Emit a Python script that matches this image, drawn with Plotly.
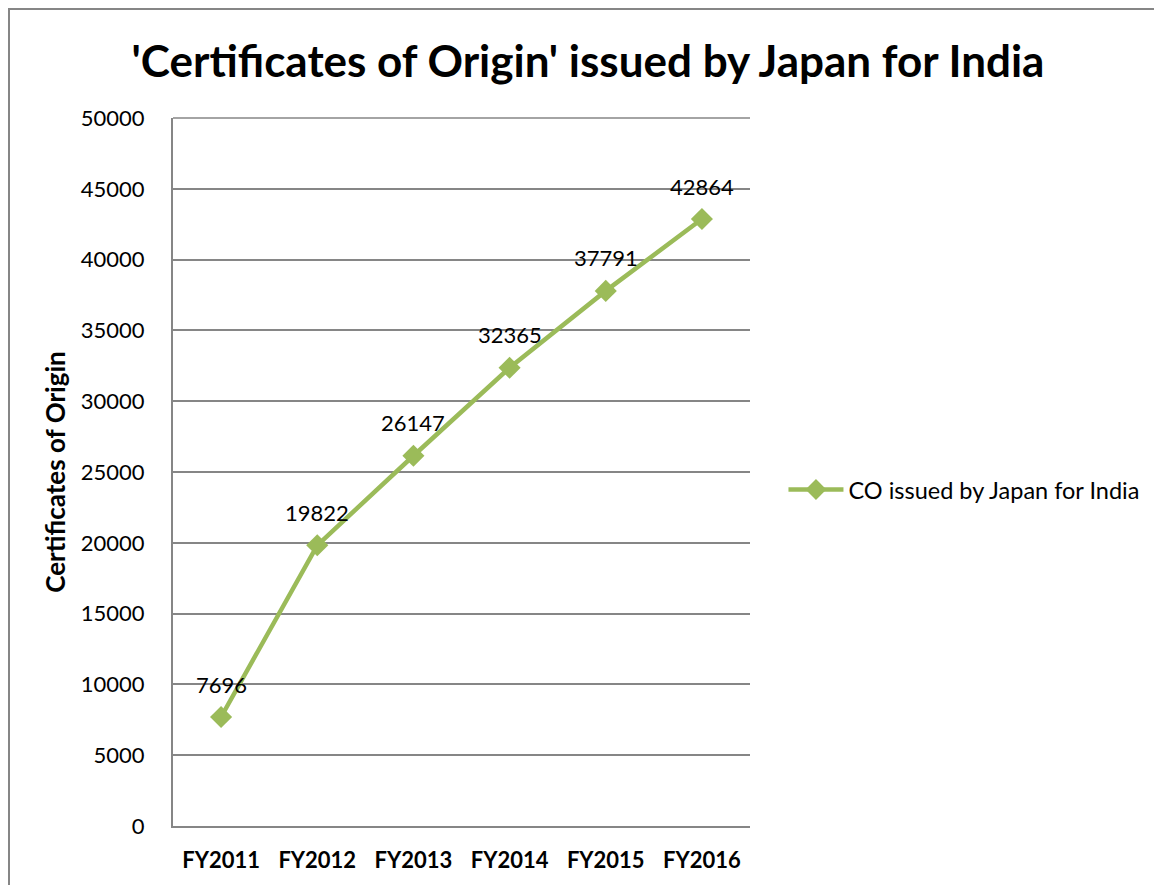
import plotly.graph_objects as go

categories = ["FY2011", "FY2012", "FY2013", "FY2014", "FY2015", "FY2016"]
values = [7696, 19822, 26147, 32365, 37791, 42864]
series_name = "CO issued by Japan for India"
title_text = "'Certificates of Origin' issued by Japan for India"
y_title = "Certificates of Origin"

green = "#9BBB59"
grid = "#868686"
font_family = "Lato, 'Open Sans', sans-serif"

L, T, PW, PH = 165, 110, 577, 708
W, H = 1162, 885

fig = go.Figure()
fig.add_trace(go.Scatter(
    x=categories, y=values, mode="lines+markers", name=series_name,
    line=dict(color=green, width=4.5),
    marker=dict(symbol="diamond", size=17, color=green),
))

for c, v in zip(categories, values):
    fig.add_annotation(x=c, y=v, text=str(v), showarrow=False, yshift=33,
                       font=dict(size=22, color="black", family=font_family))

fig.update_layout(
    width=W, height=H,
    margin=dict(l=L, r=W - L - PW, t=T, b=H - T - PH, pad=0),
    paper_bgcolor="white", plot_bgcolor="white",
    title=dict(text="<b>" + title_text + "</b>", x=(588 - 8) / W, xanchor="center",
               y=1 - 54 / H, yanchor="middle",
               font=dict(size=44, color="black", family=font_family)),
    showlegend=True,
    legend=dict(x=1.058, xanchor="left", y=0.475, yanchor="middle",
                itemwidth=55,
                font=dict(size=23.5, color="black", family=font_family),
                bgcolor="rgba(0,0,0,0)"),
    font=dict(family=font_family, color="black"),
)

fig.update_xaxes(
    type="category", range=[-0.5, 5.5], showgrid=False,
    showline=True, linecolor=grid, linewidth=2,
    ticks="", tickfont=dict(size=22, color="black", family=font_family),
    tickprefix="<b>", ticksuffix="</b>", ticklabelstandoff=14,
)
fig.update_yaxes(
    range=[0, 50000], dtick=5000, tick0=0, tickformat="d",
    showgrid=True, gridcolor=grid, gridwidth=1.5,
    showline=True, linecolor=grid, linewidth=2, zeroline=False,
    ticks="", tickfont=dict(size=22, color="black", family=font_family),
    ticklabelstandoff=22,
    title=dict(text="<b>" + y_title + "</b>", standoff=8,
               font=dict(size=26, color="black", family=font_family)),
)

# top gridline at the axis maximum
fig.add_shape(type="line", xref="paper", yref="paper", x0=0, x1=1, y0=1, y1=1,
              line=dict(color=grid, width=1.5), layer="below")

# outer chart border (top and left edges visible)
fig.add_shape(type="rect", xref="paper", yref="paper",
              x0=(1 - L) / PW, x1=1.8, y0=-0.3, y1=(T + PH - 1) / PH,
              line=dict(color=grid, width=2), fillcolor="rgba(0,0,0,0)", layer="below")

fig.write_html("out.html")
